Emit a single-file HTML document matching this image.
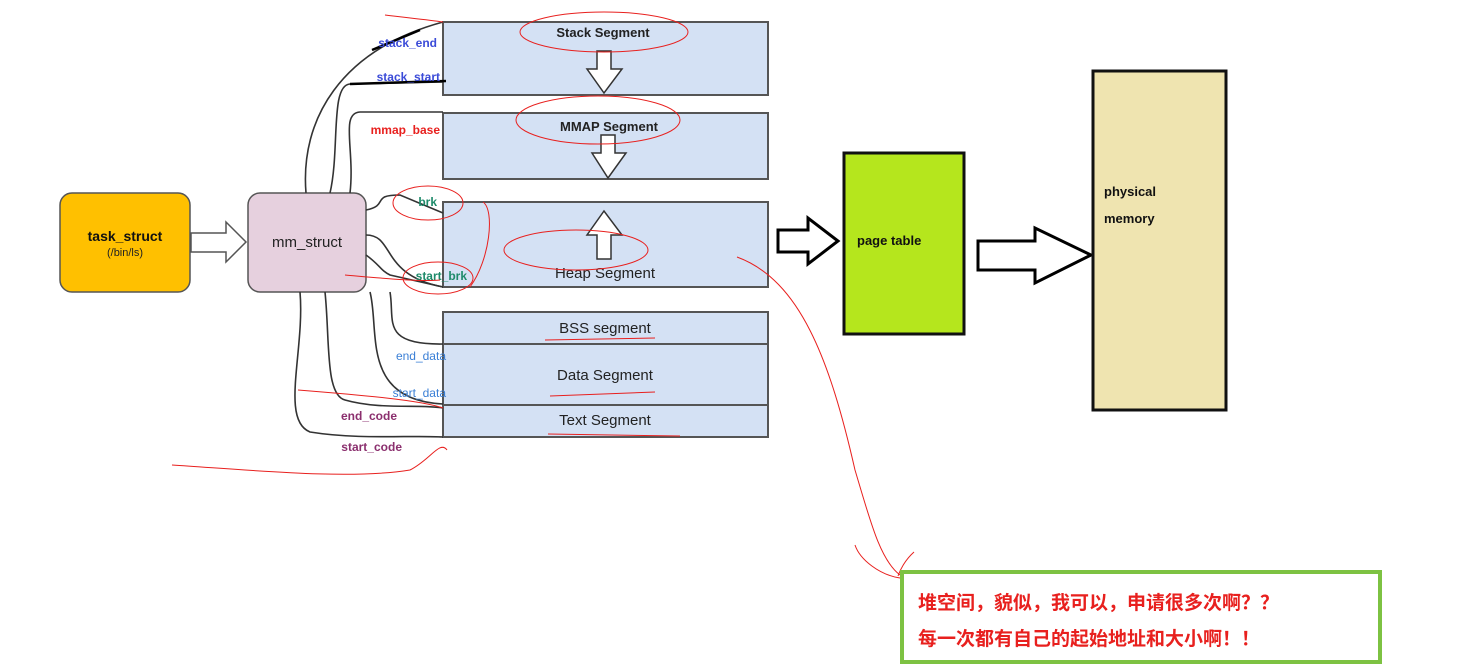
<!DOCTYPE html>
<html><head><meta charset="utf-8"><style>
html,body{margin:0;padding:0;background:#fff;}
svg{display:block;}
</style></head><body>
<svg width="1474" height="666" viewBox="0 0 1474 666" xmlns="http://www.w3.org/2000/svg" font-family="Liberation Sans, sans-serif">
<!-- segments -->
<g stroke="#555" stroke-width="2" fill="#D4E1F4">
<rect x="443" y="22" width="325" height="73"/>
<rect x="443" y="113" width="325" height="66"/>
<rect x="443" y="202" width="325" height="85"/>
<rect x="443" y="312" width="325" height="125"/>
<line x1="443" y1="344" x2="768" y2="344"/>
<line x1="443" y1="405" x2="768" y2="405"/>
</g>
<!-- segment arrows -->
<g fill="#fff" stroke="#333" stroke-width="1.5">
<path d="M597 51 L611 51 L611 69 L622 69 L604 93 L587 69 L597 69 Z"/>
<path d="M601 135 L615 135 L615 153 L626 153 L608 178 L592 153 L601 153 Z"/>
<path d="M597 259 L611 259 L611 235 L622 235 L604 211 L587 235 L597 235 Z"/>
</g>
<g font-size="13" font-weight="bold" fill="#222" text-anchor="middle">
<text x="603" y="37">Stack Segment</text>
<text x="609" y="131">MMAP Segment</text>
</g>
<g font-size="15" fill="#222" text-anchor="middle">
<text x="605" y="278">Heap Segment</text>
<text x="605" y="333">BSS segment</text>
<text x="605" y="380">Data Segment</text>
<text x="605" y="425">Text Segment</text>
</g>
<!-- task_struct & mm_struct -->
<rect x="60" y="193" width="130" height="99" rx="12" fill="#FFC000" stroke="#555" stroke-width="1.5"/>
<text x="125" y="241" font-size="14" font-weight="bold" text-anchor="middle" fill="#111">task_struct</text>
<text x="125" y="256" font-size="11" text-anchor="middle" fill="#222">(/bin/ls)</text>
<path d="M191 233 L226 233 L226 222 L246 242 L226 262 L226 252 L191 252 Z" fill="#fff" stroke="#555" stroke-width="1.5"/>
<rect x="248" y="193" width="118" height="99" rx="12" fill="#E6D0DE" stroke="#555" stroke-width="1.5"/>
<text x="307" y="247" font-size="15" text-anchor="middle" fill="#222">mm_struct</text>
<!-- connector curves -->
<g fill="none" stroke="#333" stroke-width="1.6">
<path d="M306 193 C300 120 340 50 443 22"/>
<path d="M330 193 C340 150 330 85 350 84 L443 82"/>
<path d="M350 193 C355 150 340 113 360 112 L443 112"/>
<path d="M366 210 C390 205 370 195 400 195 L443 213"/>
<path d="M366 235 C395 235 380 275 443 287"/>
<path d="M366 255 C380 265 380 270 390 275 L443 287"/>
<path d="M390 292 C395 320 380 345 443 344"/>
<path d="M370 292 C380 330 360 400 443 404"/>
<path d="M325 292 C330 340 325 395 345 400 C380 410 420 404 443 408"/>
<path d="M300 292 C305 350 280 420 310 432 C360 440 410 435 443 437"/>
</g>
<line x1="350" y1="84" x2="446" y2="81" stroke="#000" stroke-width="2.5"/>
<line x1="372" y1="50" x2="420" y2="30" stroke="#000" stroke-width="2.5"/>
<g font-size="12" font-weight="bold" text-anchor="end">
<text x="437" y="47" fill="#3B4BD8">stack_end</text>
<text x="440" y="81" fill="#3B4BD8">stack_start</text>
<text x="440" y="134" fill="#E8201E">mmap_base</text>
<text x="437" y="206" fill="#1E8A6A">brk</text>
<text x="467" y="280" fill="#1E8A6A">start_brk</text>
<text x="446" y="360" fill="#3A7FD6" font-weight="normal">end_data</text>
<text x="446" y="397" fill="#3A7FD6" font-weight="normal">start_data</text>
<text x="397" y="420" fill="#8B2F6E">end_code</text>
<text x="402" y="451" fill="#8B2F6E">start_code</text>
</g>
<!-- page table / physical memory -->
<path d="M778 230 L808 230 L808 218 L838 241 L808 264 L808 252 L778 252 Z" fill="#fff" stroke="#000" stroke-width="3"/>
<rect x="844" y="153" width="120" height="181" fill="#B5E61D" stroke="#111" stroke-width="3"/>
<text x="857" y="245" font-size="13" font-weight="bold" fill="#111">page table</text>
<path d="M978 241 L1035 241 L1035 228 L1091 255 L1035 283 L1035 270 L978 270 Z" fill="#fff" stroke="#000" stroke-width="3"/>
<rect x="1093" y="71" width="133" height="339" fill="#EFE4B0" stroke="#111" stroke-width="3"/>
<text x="1104" y="196" font-size="13" font-weight="bold" fill="#111">physical</text>
<text x="1104" y="223" font-size="13" font-weight="bold" fill="#111">memory</text>
<!-- red annotations -->
<g fill="none" stroke="#E8201E" stroke-width="1">
<ellipse cx="604" cy="32" rx="84" ry="20"/>
<ellipse cx="598" cy="120" rx="82" ry="24"/>
<ellipse cx="576" cy="250" rx="72" ry="20"/>
<ellipse cx="428" cy="203" rx="35" ry="17"/>
<ellipse cx="438" cy="278" rx="35" ry="16"/>
<path d="M483 202 C495 210 490 260 470 287"/>
<path d="M737 257 C800 280 830 360 855 470 C870 520 880 560 900 575"/>
<path d="M855 545 C860 560 880 575 900 578"/>
<path d="M914 552 C905 560 900 570 898 576"/>
<path d="M172 465 C250 470 350 480 410 470 C430 460 440 440 447 450"/>
<path d="M298 390 C360 395 420 400 443 408"/>
<path d="M545 340 L655 338"/>
<path d="M550 396 L655 392"/>
<path d="M548 434 L680 436"/>
<path d="M385 15 C410 18 430 20 443 22"/>
<path d="M345 275 C380 278 420 282 440 280"/>
</g>
<!-- note box -->
<rect x="902" y="572" width="478" height="90" fill="#fff" stroke="#7DC242" stroke-width="4"/>
<g font-family="Liberation Sans, Noto Sans CJK SC, sans-serif" font-size="19" font-weight="bold" fill="#E8201E">
<text x="918" y="609">堆空间，貌似，我可以，申请很多次啊？？</text>
<text x="918" y="645">每一次都有自己的起始地址和大小啊！！</text>
</g>
</svg>
</body></html>
